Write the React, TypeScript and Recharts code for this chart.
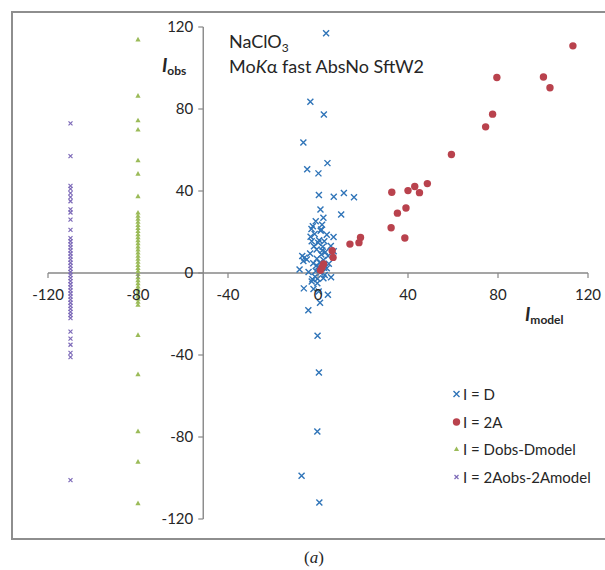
import React from "react";
import { ScatterChart, Scatter, XAxis, YAxis, ReferenceLine, Legend } from "recharts";

// ── Geometry ──────────────────────────────────────────────────────────────────
const W = 605;
const H = 570;
const PLOT = { left: 48, right: 588, top: 27, bottom: 519 };
const DOMAIN: [number, number] = [-120, 120];
const TICKS = [-120, -80, -40, 0, 40, 80, 120];
const Y_AXIS_CROSS = -51; // vertical axis crosses the x axis here

const FONT = "Lato, 'Open Sans', sans-serif";
const AXIS = "#878787";
const TEXT = "#262626";

// ── Data ──────────────────────────────────────────────────────────────────────
// I = D  (x = Imodel, y = Iobs)
const D_POINTS: [number, number][] = [
  [3.6, 117], [-3.4, 83.5], [2.6, 77.3], [-6.5, 63.7], [4.2, 53.6], [-4.8, 50.6],
  [0.2, 48.6], [0.4, 38], [11.5, 39], [7, 37.2], [16, 37], [1.1, 31], [10.3, 28.5],
  [2.4, 27], [-1, 25.2], [-2.3, 22.8], [-2.9, 21.5], [1.4, 21.2], [1.2, 20.6],
  [3.9, 18.7], [6.9, 17.6], [-3.3, 17.7], [-2.8, 15.5], [0.1, 14.8], [2.1, 12.8],
  [5.7, 13.2], [-0.6, 11.5], [1.9, 11], [7, 10.6], [-7, 8.3], [-5, 6.6], [-6.5, 5.8],
  [4.5, 8.3], [2.4, 6.3], [-2.1, 4.7], [0.1, 3.1], [3.9, 2.3], [2.7, 2.6], [-8.2, 1.7],
  [-4.2, 0.5], [-1.3, -1.8], [2.4, -2.6], [5.8, -2.1], [-2.8, -4.2], [-0.3, -5],
  [-6.3, -7.5], [-2, -7.8], [4.4, -10.6], [0.9, -14.5], [-4.3, -18.2], [-0.2, -30.6],
  [0.4, -48.5], [-0.3, -77.3], [-7.3, -98.9], [0.6, -111.9],
  [0.5, 16], [-1.5, 19], [1.5, 9], [-0.5, 7], [0.8, 5], [-1, 1], [1, 0.3], [-0.2, -2.8],
  [3, -1], [-3.5, 9.5], [-1.8, 13], [2.8, 15.5], [1.8, 23.5], [-0.8, 3.5], [0.3, -9],
  [-2.5, -3], [-6, 7.5], [4.8, 4.5], [3.3, 10.2],
];

// I = 2A
const A_POINTS: [number, number][] = [
  [113.3, 110.8], [79.5, 95.4], [100.2, 95.6], [103.1, 90.4], [77.6, 77.5], [74.5, 71.3],
  [59.3, 57.8], [48.6, 43.6], [43, 42.2], [40, 40.2], [45.1, 39.2], [32.8, 39.4],
  [39.1, 31.7], [35.3, 29.2], [32.5, 22.1], [38.6, 17.1], [18.9, 17.3], [18.2, 14.8],
  [14.2, 14.1], [6.3, 10.9], [6.7, 7.6], [2.5, 4.4], [1.1, 1.3], [1.8, 2.8],
];

// I = Dobs-Dmodel, plotted in a column at x = -80
const DIFF_D_X = -80;
const DIFF_D_Y = [
  114, 86.5, 74.5, 70, 55, 48.5, 37.5, 29.5, 28, 26.5, 25, 23.5, 22, 20.5, 19, 17.5,
  16, 14.5, 13, 11.5, 10, 8.5, 7, 5.5, 4, 2.5, 1, -0.5, -2, -3.5, -5, -6.5, -8, -9.5,
  -11, -12.5, -14, -15.5, -30.2, -49.3, -77.1, -92, -112.3,
];

// I = 2Aobs-2Amodel, plotted in a column at x = -110
const DIFF_A_X = -110;
const DIFF_A_Y = [
  73, 57, 42.5, 41, 39, 37, 35, 31, 29.5, 26, 21, 17, 15.5, 14, 12.5, 11, 9.5, 8, 6.5,
  5, 3.5, 2, 0.5, -1, -2.5, -4, -5.5, -7, -8.5, -10, -11.5, -13, -14.5, -16, -17.5,
  -19, -20.5, -22, -28.6, -32, -35, -39, -41, -101,
];

const SERIES_NAMES = ["I = D", "I = 2A", "I = Dobs-Dmodel", "I = 2Aobs-2Amodel"];

const dData = D_POINTS.map(([x, y]) => ({ x, y }));
const aData = A_POINTS.map(([x, y]) => ({ x, y }));
const diffDData = DIFF_D_Y.map((y) => ({ x: DIFF_D_X, y }));
const diffAData = DIFF_A_Y.map((y) => ({ x: DIFF_A_X, y }));

// ── Markers ───────────────────────────────────────────────────────────────────
const COLORS = ["#2f74b8", "#b9424d", "#9bbb59", "#7d6ab8"];

function crossMarker(color: string, r: number, sw: number) {
  return (props: any) => {
    const { cx, cy } = props;
    return (
      <path
        d={`M${cx - r},${cy - r}L${cx + r},${cy + r}M${cx - r},${cy + r}L${cx + r},${cy - r}`}
        stroke={color}
        strokeWidth={sw}
        fill="none"
      />
    );
  };
}

function dotMarker(color: string, r: number) {
  return (props: any) => <circle cx={props.cx} cy={props.cy} r={r} fill={color} />;
}

function triMarker(color: string, s: number) {
  return (props: any) => {
    const { cx, cy } = props;
    return (
      <path d={`M${cx},${cy - s}L${cx + s},${cy + s * 0.8}L${cx - s},${cy + s * 0.8}Z`} fill={color} />
    );
  };
}

const MARKERS = [
  crossMarker(COLORS[0], 3, 1.4),
  dotMarker(COLORS[1], 3.7),
  triMarker(COLORS[2], 2.6),
  crossMarker(COLORS[3], 2, 1.2),
];

// ── Ticks (drawn along the crossing axes, not the plot edges) ─────────────────
const ZERO_Y = (PLOT.top + PLOT.bottom) / 2;
const AXIS_X =
  PLOT.left + ((Y_AXIS_CROSS - DOMAIN[0]) / (DOMAIN[1] - DOMAIN[0])) * (PLOT.right - PLOT.left);

function XTick({ x, payload }: any) {
  return (
    <g>
      <line x1={x} x2={x} y1={ZERO_Y} y2={ZERO_Y + 5} stroke={AXIS} strokeWidth={1.2} />
      <text x={x} y={ZERO_Y + 27} textAnchor="middle" fontFamily={FONT} fontSize={15} fill={TEXT}>
        {payload.value}
      </text>
    </g>
  );
}

function YTick({ y, payload }: any) {
  return (
    <g>
      <line x1={AXIS_X - 5} x2={AXIS_X} y1={y} y2={y} stroke={AXIS} strokeWidth={1.2} />
      <text x={AXIS_X - 10} y={y + 5} textAnchor="end" fontFamily={FONT} fontSize={15} fill={TEXT}>
        {payload.value}
      </text>
    </g>
  );
}

// ── Legend (kept in series order) ─────────────────────────────────────────────
function LegendContent() {
  return (
    <div style={{ fontFamily: FONT, fontSize: 15, color: TEXT }}>
      {SERIES_NAMES.map((name, i) => {
        const Marker = MARKERS[i];
        return (
          <div key={name} style={{ display: "flex", alignItems: "center", height: 27.8 }}>
            <svg width={13} height={14} style={{ display: "block" }}>
              <Marker cx={6.5} cy={7} />
            </svg>
            <span style={{ whiteSpace: "nowrap" }}>{name}</span>
          </div>
        );
      })}
    </div>
  );
}

// ── Main ──────────────────────────────────────────────────────────────────────
export default function App() {
  return (
    <div
      style={{
        position: "absolute",
        left: 0,
        top: 0,
        width: W,
        height: H,
        overflow: "hidden",
        background: "#fff",
      }}
    >
      {/* chart area border */}
      <div
        style={{
          position: "absolute",
          left: 11,
          top: 11,
          width: 640,
          height: 525,
          border: "2px solid #8e8e8e",
        }}
      />

      <ScatterChart
        width={W}
        height={H}
        margin={{ top: PLOT.top, right: W - PLOT.right, bottom: H - PLOT.bottom - 1, left: PLOT.left - 1 }}
      >
        {/* axes only feed the ticks; size 1 so that recharts still renders them */}
        <XAxis
          type="number"
          dataKey="x"
          domain={DOMAIN}
          ticks={TICKS}
          allowDataOverflow
          height={1}
          axisLine={false}
          tickLine={false}
          tickSize={0}
          tickMargin={0}
          interval={0}
          tick={(props: any) => <XTick {...props} />}
        />
        <YAxis
          type="number"
          dataKey="y"
          domain={DOMAIN}
          ticks={TICKS}
          allowDataOverflow
          width={1}
          axisLine={false}
          tickLine={false}
          tickSize={0}
          tickMargin={0}
          interval={0}
          tick={(props: any) => <YTick {...props} />}
        />
        <ReferenceLine y={0} stroke={AXIS} strokeWidth={1.4} />
        <ReferenceLine x={Y_AXIS_CROSS} stroke={AXIS} strokeWidth={1.4} />

        <Scatter name={SERIES_NAMES[0]} data={dData} fill={COLORS[0]} shape={MARKERS[0]} isAnimationActive={false} />
        <Scatter name={SERIES_NAMES[1]} data={aData} fill={COLORS[1]} shape={MARKERS[1]} isAnimationActive={false} />
        <Scatter name={SERIES_NAMES[2]} data={diffDData} fill={COLORS[2]} shape={MARKERS[2]} isAnimationActive={false} />
        <Scatter name={SERIES_NAMES[3]} data={diffAData} fill={COLORS[3]} shape={MARKERS[3]} isAnimationActive={false} />

        <Legend
          layout="vertical"
          align="center"
          verticalAlign="middle"
          content={<LegendContent />}
          wrapperStyle={{ left: 450, top: 380, width: 150 }}
        />
      </ScatterChart>

      {/* titles and annotations */}
      <svg
        width={W}
        height={H}
        style={{ position: "absolute", left: 0, top: 0, pointerEvents: "none" }}
      >
        <text x={229} y={48} fontFamily={FONT} fontSize={18} fill={TEXT}>
          NaClO
          <tspan fontSize={12} dy={4}>3</tspan>
        </text>
        <text x={229} y={73} fontFamily={FONT} fontSize={18} fill={TEXT}>
          Mo<tspan fontStyle="italic">K</tspan>α fast AbsNo SftW2
        </text>

        <text x={162} y={72} fontFamily={FONT} fontWeight="bold" fill={TEXT}>
          <tspan fontSize={19} fontStyle="italic">I</tspan>
          <tspan fontSize={12} dy={3}>obs</tspan>
        </text>
        <text x={525} y={321} fontFamily={FONT} fontWeight="bold" fill={TEXT}>
          <tspan fontSize={19} fontStyle="italic">I</tspan>
          <tspan fontSize={12} dy={3}>model</tspan>
        </text>

        <text x={314} y={563} textAnchor="middle" fontFamily="'Liberation Serif', serif" fontSize={17} fill={TEXT}>
          (<tspan fontStyle="italic">a</tspan>)
        </text>
      </svg>
    </div>
  );
}
